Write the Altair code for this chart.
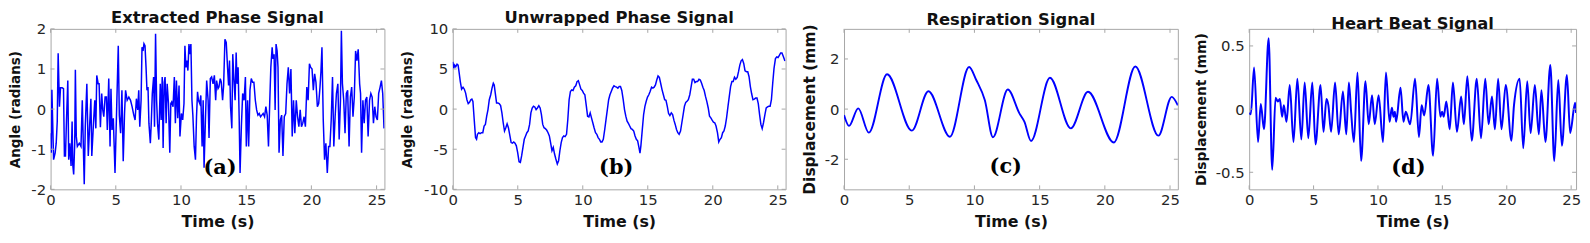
import altair as alt
import pandas as pd

# ---------------- data ----------------
X_TICKS = [0, 5, 10, 15, 20, 25]

# (a) Extracted phase signal (radians)
A_T = [0.00, 0.05, 0.10, 0.23, 0.35, 0.43, 0.51, 0.58, 0.68, 0.76, 0.89, 0.99, 1.06, 1.14, 1.22, 1.32, 1.39, 1.47, 1.57, 1.65,
       1.70, 1.77, 1.85, 1.90, 1.97, 2.05, 2.20, 2.33, 2.43, 2.58, 2.66, 2.78, 2.89, 2.99, 3.09, 3.16, 3.29, 3.39, 3.47, 3.54,
       3.65, 3.72, 3.82, 3.92, 4.00, 4.08, 4.18, 4.28, 4.35, 4.46, 4.56, 4.63, 4.71, 4.81, 4.94, 5.19, 5.27, 5.37, 5.47, 5.57,
       5.67, 5.75, 5.87, 6.00, 6.13, 6.25, 6.38, 6.48, 6.58, 6.68, 6.76, 6.84, 6.94, 7.01, 7.09, 7.16, 7.24, 7.32, 7.39, 7.47,
       7.54, 7.65, 7.72, 7.80, 7.90, 7.97, 8.05, 8.13, 8.20, 8.30, 8.41, 8.48, 8.56, 8.63, 8.71, 8.78, 8.86, 8.94, 9.04, 9.14,
       9.22, 9.29, 9.39, 9.49, 9.57, 9.65, 9.75, 9.85, 9.92, 10.03, 10.13, 10.23, 10.30, 10.38, 10.46, 10.53, 10.61, 10.68, 10.76, 10.84,
       10.91, 11.01, 11.11, 11.19, 11.27, 11.34, 11.44, 11.52, 11.62, 11.70, 11.77, 11.87, 11.97, 12.08, 12.15, 12.25, 12.35, 12.46, 12.56, 12.66,
       12.73, 12.84, 12.91, 13.01, 13.09, 13.19, 13.27, 13.37, 13.47, 13.57, 13.65, 13.72, 13.80, 13.90, 13.97, 14.05, 14.15, 14.23, 14.30, 14.38,
       14.46, 14.53, 14.63, 14.73, 14.84, 14.94, 15.01, 15.11, 15.19, 15.29, 15.39, 15.49, 15.59, 15.70, 15.80, 15.90, 16.00, 16.10, 16.20, 16.30,
       16.41, 16.51, 16.61, 16.71, 16.81, 16.89, 16.99, 17.06, 17.14, 17.22, 17.29, 17.37, 17.44, 17.52, 17.62, 17.72, 17.82, 17.92, 18.03, 18.13,
       18.23, 18.33, 18.43, 18.53, 18.63, 18.73, 18.84, 18.94, 19.04, 19.14, 19.24, 19.34, 19.44, 19.54, 19.65, 19.75, 19.85, 19.95, 20.05, 20.15,
       20.25, 20.35, 20.46, 20.56, 20.66, 20.73, 20.81, 20.91, 21.01, 21.11, 21.22, 21.32, 21.42, 21.52, 21.62, 21.72, 21.82, 21.92, 22.03, 22.13,
       22.23, 22.30, 22.38, 22.48, 22.58, 22.68, 22.78, 22.89, 22.99, 23.09, 23.19, 23.29, 23.39, 23.49, 23.59, 23.70, 23.77, 23.85, 23.95, 24.05,
       24.15, 24.25, 24.35, 24.46, 24.56, 24.66, 24.76, 24.86, 24.96, 25.06, 25.16, 25.27, 25.37, 25.47, 25.57]
A_V = [-0.60, -1.09, 0.48, -1.26, -1.09, -0.85, -0.31, 1.39, 0.06, 0.53, 0.53, 0.51, -1.17, -1.17, -0.27, 0.71, -1.26, -0.85, -1.42, -0.31,
       -1.38, -1.63, -0.85, 0.98, -0.68, -0.93, -0.85, -0.93, 0.22, -1.87, -0.44, 0.63, -1.17, -0.44, 0.26, -1.17, -0.35, 0.22, -0.48, 0.84,
       0.63, 0.63, -0.45, 0.39, -0.02, -0.19, 0.30, 0.30, -0.52, 0.76, -0.93, 0.51, -0.52, -0.23, -1.59, 1.58, -0.15, -0.60, 0.47, -1.30,
       -0.11, 0.47, 0.22, 0.30, 0.22, 0.06, -0.15, -0.27, 0.26, -0.02, 0.47, -0.44, 0.22, 1.54, 1.45, 1.63, 1.58, 1.04, 0.47, 0.55,
       -0.35, -0.85, -0.35, 0.39, 0.80, -0.44, 1.88, 0.22, -0.35, -0.76, 0.63, -0.27, 0.80, -0.97, 0.67, 0.80, -0.35, 0.63, 0.14, -1.09,
       0.14, 0.18, 0.06, 0.80, -0.35, 0.71, -0.23, 0.59, -0.68, -0.11, -0.27, 0.14, 1.58, 1.04, 1.21, 0.96, 1.62, 1.37, 1.62, 0.22,
       -0.15, -0.93, -1.26, -0.19, 0.43, 0.22, 0.14, 0.34, -0.93, 0.22, -1.46, -0.31, 0.71, 0.22, -0.72, 0.76, 0.80, 0.63, 0.84, 0.22,
       0.71, 0.51, 0.55, 0.76, 0.67, 0.22, 0.59, 1.74, 1.66, 1.04, 0.59, 1.21, 0.06, -0.48, 1.37, 0.80, 0.22, 1.41, 0.63, 1.04,
       -0.19, -1.59, -0.44, 0.39, 0.22, 0.80, -0.93, 0.22, -0.93, 0.47, 0.76, 0.67, 0.67, 0.22, -0.02, -0.15, -0.11, -0.19, -0.15, -0.11,
       -0.19, 0.06, -0.15, -0.93, 0.22, 1.04, 1.54, 1.25, 1.37, -0.02, 1.62, 1.45, 1.04, -1.09, -0.27, -0.15, -1.17, -0.19, -0.11, 0.63,
       1.04, 0.39, 1.00, -0.68, 0.22, -0.60, 0.22, -0.19, -0.44, -0.02, -0.44, -0.35, -0.19, -0.44, 0.55, 0.22, 1.13, 1.04, 1.00, 0.47,
       0.88, 0.67, 0.06, 0.14, 0.55, 0.92, 1.54, -0.27, -1.26, -0.85, -1.59, -0.93, -0.93, -0.27, 0.80, -0.93, -0.19, 0.39, 0.63, -0.76,
       0.22, 1.95, 0.63, 0.22, -0.60, 0.39, 0.47, -0.93, 0.30, 0.55, -0.19, 0.30, 1.45, 1.21, 1.49, 0.63, 0.39, -1.09, 0.22, -0.35,
       0.22, 0.30, -0.68, 0.22, 0.39, 0.30, -0.35, 0.06, -0.19, -0.27, 0.39, 0.55, 0.71, 0.39, -0.48]

# (b) Unwrapped phase signal (radians)
B_T = [0.00, 0.08, 0.15, 0.23, 0.33, 0.41, 0.48, 0.58, 0.68, 0.79, 0.89, 0.99, 1.09, 1.19, 1.29, 1.39, 1.47, 1.55, 1.65, 1.75,
       1.83, 1.90, 2.00, 2.10, 2.21, 2.31, 2.41, 2.51, 2.61, 2.71, 2.81, 2.92, 3.02, 3.12, 3.19, 3.27, 3.37, 3.47, 3.57, 3.68,
       3.78, 3.88, 3.98, 4.08, 4.18, 4.28, 4.39, 4.49, 4.59, 4.69, 4.79, 4.89, 4.99, 5.10, 5.20, 5.30, 5.40, 5.50, 5.60, 5.70,
       5.80, 5.91, 6.01, 6.11, 6.21, 6.31, 6.41, 6.51, 6.62, 6.72, 6.82, 6.92, 7.02, 7.12, 7.22, 7.33, 7.43, 7.53, 7.63, 7.73,
       7.83, 7.93, 8.04, 8.14, 8.24, 8.34, 8.44, 8.54, 8.64, 8.75, 8.85, 8.95, 9.05, 9.15, 9.25, 9.35, 9.46, 9.56, 9.66, 9.76,
       9.86, 9.96, 10.06, 10.16, 10.27, 10.37, 10.47, 10.57, 10.67, 10.77, 10.87, 10.98, 11.08, 11.18, 11.28, 11.38, 11.48, 11.58, 11.69, 11.79,
       11.89, 11.99, 12.09, 12.19, 12.29, 12.40, 12.50, 12.60, 12.70, 12.80, 12.90, 13.00, 13.11, 13.21, 13.31, 13.41, 13.51, 13.61, 13.71, 13.81,
       13.92, 14.02, 14.12, 14.22, 14.32, 14.40, 14.47, 14.58, 14.68, 14.78, 14.88, 14.98, 15.08, 15.18, 15.29, 15.39, 15.49, 15.59, 15.69, 15.79,
       15.89, 15.99, 16.10, 16.20, 16.30, 16.40, 16.50, 16.60, 16.70, 16.81, 16.91, 17.01, 17.11, 17.21, 17.31, 17.41, 17.52, 17.62, 17.72, 17.82,
       17.92, 18.02, 18.12, 18.23, 18.33, 18.43, 18.53, 18.63, 18.73, 18.83, 18.94, 19.04, 19.14, 19.24, 19.34, 19.44, 19.54, 19.65, 19.75, 19.85,
       19.95, 20.05, 20.15, 20.25, 20.36, 20.46, 20.56, 20.66, 20.76, 20.86, 20.96, 21.06, 21.17, 21.27, 21.37, 21.47, 21.57, 21.67, 21.77, 21.88,
       21.98, 22.08, 22.18, 22.28, 22.38, 22.48, 22.59, 22.69, 22.79, 22.89, 22.99, 23.09, 23.19, 23.30, 23.40, 23.50, 23.60, 23.70, 23.80, 23.90,
       24.01, 24.11, 24.21, 24.31, 24.41, 24.51, 24.61, 24.71, 24.82, 24.92, 25.02, 25.12, 25.22, 25.32, 25.42, 25.55]
B_V = [5.89, 5.07, 5.48, 5.27, 5.60, 5.48, 4.66, 3.43, 2.48, 2.73, 2.48, 1.99, 1.17, 0.68, 0.84, 1.17, 1.25, 0.97, -1.29, -3.55,
       -3.76, -3.14, -2.94, -3.06, -2.94, -2.94, -2.11, -1.91, -0.88, -0.06, 1.17, 1.79, 2.61, 3.22, 3.02, 1.99, 0.76, 0.76, 0.68, 0.43,
       -0.47, -1.70, -2.73, -2.32, -1.83, -2.32, -3.27, -4.17, -4.25, -4.09, -4.25, -4.58, -5.40, -6.55, -6.63, -5.81, -4.78, -3.76, -3.35, -2.94,
       -2.73, -1.91, -0.47, 0.14, 0.35, 0.27, -0.06, 0.14, 0.43, 0.14, -0.68, -1.91, -2.32, -2.44, -2.61, -2.94, -3.35, -4.25, -5.19, -4.78,
       -5.60, -6.22, -6.84, -6.43, -5.19, -4.17, -3.55, -3.35, -3.43, -3.14, -1.29, 1.17, 2.20, 2.40, 2.32, 2.73, 2.90, 3.43, 3.55, 3.02,
       2.48, 2.32, 1.99, 1.79, 0.43, -0.88, -0.97, -0.47, -1.09, -1.70, -2.32, -2.94, -3.14, -3.55, -3.76, -4.09, -4.09, -3.76, -2.53, -1.29,
       -0.06, 1.17, 1.79, 2.20, 2.61, 2.90, 2.81, 2.73, 2.61, 2.81, 2.81, 2.32, 1.17, -0.06, -0.88, -1.50, -1.79, -2.11, -2.44, -2.53,
       -2.73, -3.35, -3.76, -3.96, -4.78, -5.48, -4.58, -2.53, -0.68, 0.35, 0.97, 1.50, 1.79, 2.20, 2.73, 2.61, 2.73, 3.02, 3.63, 4.13,
       3.96, 3.22, 2.40, 1.79, 1.17, 1.09, 0.35, -0.55, -0.80, -0.47, -0.68, -1.38, -1.91, -2.53, -2.94, -3.14, -2.73, -1.70, -0.68, 0.35,
       0.84, 0.97, 1.17, 1.79, 2.73, 3.72, 3.72, 3.31, 3.43, 3.43, 3.72, 3.63, 3.22, 2.73, 2.32, 1.58, 0.97, 0.14, -0.88, -1.09,
       -1.38, -1.62, -1.70, -2.11, -2.94, -4.09, -3.76, -3.55, -2.94, -2.73, -2.11, -1.09, 0.35, 1.58, 2.81, 3.43, 3.43, 3.96, 3.72, 3.96,
       4.66, 5.48, 6.02, 6.18, 5.69, 4.78, 4.66, 4.66, 4.04, 2.81, 1.91, 1.17, 1.25, 1.38, 1.38, 0.68, -0.68, -1.91, -2.44, -1.70,
       -0.68, 0.14, 0.27, 0.35, 0.35, 1.17, 3.22, 5.07, 6.30, 6.50, 6.43, 6.71, 7.00, 7.00, 6.59, 6.00]

# (c) Respiration signal (mm) - turning points
C_T = [0.00, 0.38, 1.09, 1.90, 3.30, 5.20, 6.47, 8.12, 9.59, 10.15, 10.80, 11.42, 12.56, 13.45, 13.83, 14.34,
       15.79, 17.39, 18.71, 20.69, 22.34, 24.11, 25.13, 25.60]
C_V = [-0.24, -0.67, 0.03, -0.94, 1.39, -0.86, 0.71, -1.10, 1.68, 1.15, 0.35, -1.12, 0.78, -0.17, -0.50, -1.27,
       1.25, -0.77, 0.69, -1.33, 1.70, -1.06, 0.49, 0.15]

# (d) Heart beat signal (mm) - turning points
D_T = [0.00, 0.13, 0.38, 0.69, 0.90, 1.15, 1.51, 1.79, 2.05, 2.23, 2.38, 2.56, 2.69, 2.90, 3.15, 3.44, 3.74, 4.05, 4.31, 4.59,
       4.90, 5.15, 5.54, 5.77, 6.00, 6.15, 6.36, 6.67, 6.95, 7.28, 7.54, 7.74, 7.92, 8.13, 8.41, 8.69, 9.03, 9.28, 9.54, 9.75,
       10.05, 10.39, 10.62, 10.90, 11.08, 11.21, 11.31, 11.41, 11.75, 11.98, 12.16, 12.50, 12.88, 13.18, 13.39, 13.59, 13.92, 14.28, 14.59, 14.85,
       14.98, 15.10, 15.31, 15.57, 15.82, 16.13, 16.46, 16.67, 16.94, 17.28, 17.67, 18.00, 18.33, 18.59, 18.85, 19.08, 19.33, 19.59, 19.92, 20.36,
       20.56, 21.00, 21.28, 21.59, 21.85, 22.18, 22.49, 22.69, 23.00, 23.38, 23.69, 24.00, 24.28, 24.67, 24.92, 25.31, 25.38]
D_V = [-0.03, -0.04, 0.33, -0.26, 0.04, -0.16, 0.56, -0.48, 0.09, 0.06, 0.08, -0.06, 0.03, -0.10, 0.19, -0.26, 0.24, -0.24, 0.21, -0.23,
       0.21, -0.28, 0.19, -0.18, 0.08, 0.03, -0.18, 0.21, -0.20, 0.14, -0.20, 0.21, -0.03, -0.26, 0.29, -0.41, 0.22, -0.12, 0.11, -0.12,
       0.11, -0.26, 0.29, -0.10, 0.01, -0.06, -0.02, -0.10, 0.17, -0.10, -0.02, -0.12, 0.24, -0.22, 0.03, -0.05, 0.19, -0.37, 0.24, -0.06,
       -0.02, -0.06, 0.06, -0.16, 0.21, -0.18, 0.10, -0.12, 0.26, -0.25, 0.24, -0.23, 0.24, -0.12, 0.10, -0.16, 0.24, -0.16, 0.19, -0.25,
       0.03, 0.24, -0.31, 0.22, -0.19, 0.19, -0.20, 0.15, -0.26, 0.35, -0.41, 0.23, -0.29, 0.27, -0.19, 0.05, -0.03]

TITLES = ["Extracted Phase Signal", "Unwrapped Phase Signal", "Respiration Signal", "Heart Beat Signal"]
Y_TITLES = ["Angle (radians)", "Angle (radians)", "Displacement (mm)", "Displacement (mm)"]
TAGS = ["(a)", "(b)", "(c)", "(d)"]
TAG_T = [13.0, 12.57, 12.4, 12.36]
TAG_V = [-1.47, -7.3, -2.32, -0.47]
Y_TICKS = [[-2, -1, 0, 1, 2], [-10, -5, 0, 5, 10], [-2, 0, 2], [-0.5, 0, 0.5]]
Y_DOMAINS = [[-2, 2], [-10, 10], [-3.2, 3.2], [-0.635, 0.635]]
X_MAX = [25.6, 25.6, 25.6, 25.38]

# ---------------- styling ----------------
FRAME = "#a6a6a6"
BLUE = "#0000ff"
FONT = "DejaVu Sans"
LABEL_EXPR = "replace(format(datum.value, '~g'), '\u2212', '-')"
H = 162


def panel(i, ts, vs, width, interp, sw, ytitle_size, title_pad):
    n = min(len(ts), len(vs))
    df = pd.DataFrame({"t": ts[:n], "v": vs[:n]})
    xs = alt.Scale(domain=[0, X_MAX[i]], nice=False, zero=False)
    ys = alt.Scale(domain=Y_DOMAINS[i], nice=False, zero=False)
    xaxis = alt.Axis(values=X_TICKS, title="Time (s)", grid=False, domain=False, ticks=False,
                     labelFont=FONT, labelFontSize=15, labelColor="#262626", labelPadding=3,
                     labelExpr=LABEL_EXPR, labelFlush=False,
                     titleFont=FONT, titleFontSize=16, titleFontWeight="bold", titleColor="#111111",
                     titlePadding=7)
    yaxis = alt.Axis(values=Y_TICKS[i], title=Y_TITLES[i], grid=False, domain=False, ticks=False,
                     labelFont=FONT, labelFontSize=15, labelColor="#262626", labelPadding=5,
                     labelExpr=LABEL_EXPR, labelFlush=False,
                     titleFont=FONT, titleFontSize=ytitle_size, titleFontWeight="bold", titleColor="#111111",
                     titlePadding=title_pad)
    X = alt.X("t:Q", scale=xs, axis=xaxis)
    Y = alt.Y("v:Q", scale=ys, axis=yaxis)
    line = alt.Chart(df).mark_line(color=BLUE, strokeWidth=sw, interpolate=interp, clip=True).encode(x=X, y=Y)
    xt = pd.DataFrame({"t": X_TICKS})
    yt = pd.DataFrame({"v": Y_TICKS[i]})
    tick_bot = alt.Chart(xt).mark_rule(color=FRAME, strokeWidth=1).encode(
        x=X, y=alt.value(H), y2=alt.value(H - 4))
    tick_top = alt.Chart(xt).mark_rule(color=FRAME, strokeWidth=1).encode(
        x=X, y=alt.value(0), y2=alt.value(4))
    tick_l = alt.Chart(yt).mark_rule(color=FRAME, strokeWidth=1).encode(
        y=Y, x=alt.value(0), x2=alt.value(4))
    tick_r = alt.Chart(yt).mark_rule(color=FRAME, strokeWidth=1).encode(
        y=Y, x=alt.value(width), x2=alt.value(width - 4))
    tag_df = pd.DataFrame({"t": [TAG_T[i]], "v": [TAG_V[i]], "s": [TAGS[i]]})
    tag = alt.Chart(tag_df).mark_text(font="DejaVu Serif", fontSize=21, fontWeight="bold", color="#000000",
                                      align="center", baseline="middle").encode(x=X, y=Y, text="s:N")
    return alt.layer(line, tick_bot, tick_top, tick_l, tick_r, tag).properties(
        width=width, height=H,
        title=alt.TitleParams(TITLES[i], font=FONT, fontSize=16.5, fontWeight="bold", color="#111111",
                              anchor="middle", frame="group", offset=-4.5),
    )


pa = panel(0, A_T, A_V, 337, "linear", 1.5, 13.6, 8)
pb = panel(1, B_T, B_V, 336, "linear", 1.5, 13.6, 9)
pc = panel(2, C_T, C_V, 337, "monotone", 1.9, 15.6, 7)
pd_ = panel(3, D_T, D_V, 330, "monotone", 2.0, 14.0, 7)

chart = alt.hconcat(pa, pb, pc, pd_, spacing=13).configure_view(
    stroke=FRAME, strokeWidth=1
).properties(padding={"left": 0, "top": 0, "right": 0, "bottom": 0}, background="white")

chart.save("out.html", embed_options={"renderer": "svg", "actions": False})
